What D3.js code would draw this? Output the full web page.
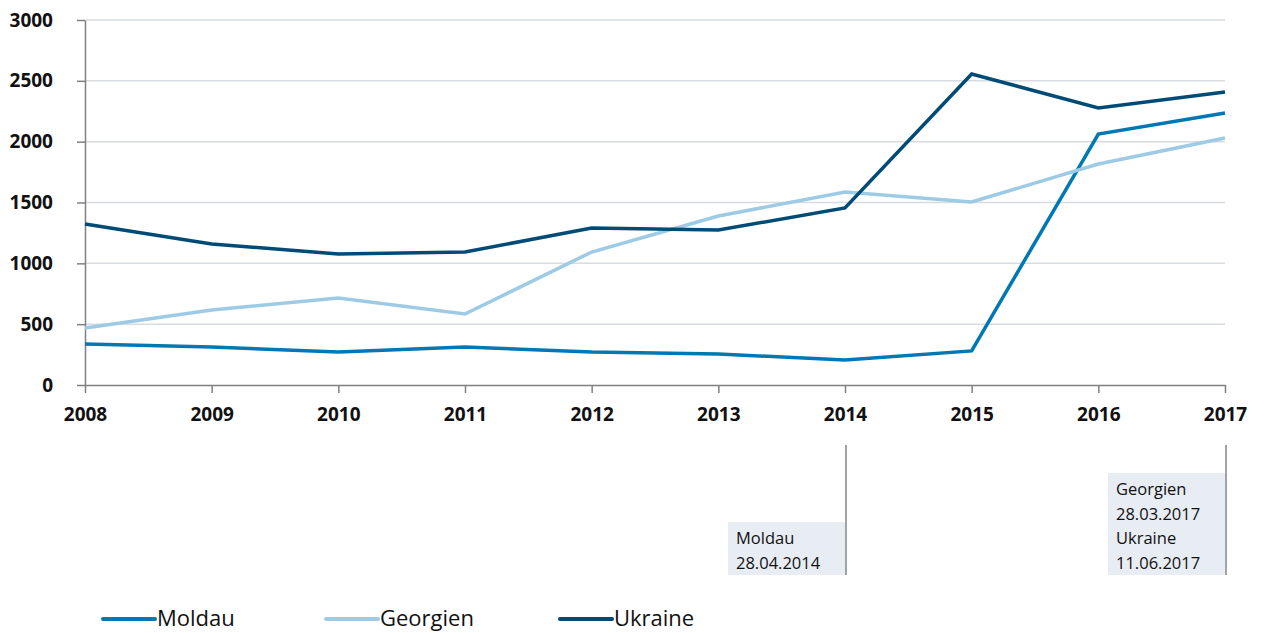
<!DOCTYPE html>
<html>
<head>
<meta charset="utf-8">
<script src="https://cdn.jsdelivr.net/npm/d3@7"></script>
<style>
  body { margin: 0; background: #fff; }
  svg { display: block; font-family: "Open Sans", "Noto Sans", sans-serif; }
</style>
</head>
<body>
<div id="vis-holder"></div>
<script>
// data
const years = [2008, 2009, 2010, 2011, 2012, 2013, 2014, 2015, 2016, 2017];
const moldau = [337, 312, 271, 312, 271, 255, 205, 280, 2063, 2236];
const georgien = [468, 616, 715, 583, 1093, 1389, 1586, 1504, 1816, 2030];
const ukraine = [1323, 1159, 1077, 1093, 1290, 1274, 1455, 2556, 2277, 2408];
const seriesNames = ["Moldau", "Georgien", "Ukraine"];
const yTicks = [0, 500, 1000, 1500, 2000, 2500, 3000];
const notes = [
  { year: 2014, lines: ["Moldau", "28.04.2014"] },
  { year: 2017, lines: ["Georgien", "28.03.2017", "Ukraine", "11.06.2017"] }
];

const width = 1269, height = 633;
const margin = { top: 20, right: 44, bottom: 248, left: 85 };
const colors = { Moldau: "#0078b4", Georgien: "#9dcbe5", Ukraine: "#004b75" };
const series = [
  { name: "Moldau", values: moldau },
  { name: "Georgien", values: georgien },
  { name: "Ukraine", values: ukraine }
];
const font = '"Open Sans", "Noto Sans", sans-serif';

const svg = d3.select("#vis-holder")
  .append("svg")
  .attr("width", width)
  .attr("height", height);

const x = d3.scalePoint()
  .domain(years)
  .range([margin.left, width - margin.right]);

const y = d3.scaleLinear()
  .domain([0, 3000])
  .range([height - margin.bottom, margin.top]);

// gridlines
svg.append("g")
  .selectAll("line")
  .data(yTicks.filter(d => d > 0))
  .join("line")
  .attr("x1", margin.left)
  .attr("x2", width - margin.right)
  .attr("y1", d => y(d))
  .attr("y2", d => y(d))
  .attr("stroke", "#d8dce0")
  .attr("stroke-width", 1.5);

// y axis
const yAxis = svg.append("g")
  .attr("transform", `translate(${margin.left},0)`)
  .call(d3.axisLeft(y).tickValues(yTicks).tickFormat(d3.format("d"))
    .tickSize(8).tickSizeOuter(0).tickPadding(24))
  .attr("font-family", font);
yAxis.select(".domain").attr("stroke", "#808080").attr("stroke-width", 1.5);
yAxis.selectAll(".tick line").attr("stroke", "#808080").attr("stroke-width", 1.5);
yAxis.selectAll(".tick text")
  .attr("font-size", "19px")
  .attr("font-weight", "bold")
  .attr("fill", "#111");

// x axis
const xAxis = svg.append("g")
  .attr("transform", `translate(0,${y(0)})`)
  .call(d3.axisBottom(x).tickFormat(d3.format("d"))
    .tickSize(8).tickSizeOuter(0).tickPadding(15))
  .attr("font-family", font);
xAxis.select(".domain").attr("stroke", "#808080").attr("stroke-width", 1.5);
xAxis.selectAll(".tick line").attr("stroke", "#808080").attr("stroke-width", 1.5);
xAxis.selectAll(".tick text")
  .attr("font-size", "19px")
  .attr("font-weight", "bold")
  .attr("fill", "#111");

// lines
const line = d3.line()
  .x((d, i) => x(years[i]))
  .y(d => y(d));

svg.append("g")
  .selectAll("path")
  .data(series)
  .join("path")
  .attr("d", d => line(d.values))
  .attr("fill", "none")
  .attr("stroke", d => colors[d.name])
  .attr("stroke-width", 3.5)
  .attr("stroke-linejoin", "miter");

// annotations
const lineH = 24.5;
const noteBottom = 575;
notes.forEach(n => {
  const nx = x(n.year) + 1;
  const boxH = n.lines.length * lineH + 4;
  const g = svg.append("g");
  g.append("rect")
    .attr("x", nx - 118)
    .attr("y", noteBottom - boxH)
    .attr("width", 117)
    .attr("height", boxH)
    .attr("fill", "#e8ecf3");
  g.append("line")
    .attr("x1", nx).attr("x2", nx)
    .attr("y1", 445).attr("y2", noteBottom)
    .attr("stroke", "#a0a4a8")
    .attr("stroke-width", 2);
  g.selectAll("text")
    .data(n.lines)
    .join("text")
    .attr("x", nx - 110)
    .attr("y", (d, i) => noteBottom - boxH + 22 + i * lineH)
    .attr("font-size", "16.5px")
    .attr("fill", "#111")
    .text(d => d);
});

// legend
const legendX = [103, 326, 560];
const legend = svg.append("g")
  .selectAll("g")
  .data(seriesNames)
  .join("g")
  .attr("transform", (d, i) => `translate(${legendX[i]},619)`);
legend.append("line")
  .attr("x1", 0).attr("x2", 52)
  .attr("stroke", d => colors[d])
  .attr("stroke-width", 4)
  .attr("stroke-linecap", "round");
legend.append("text")
  .attr("x", 54)
  .attr("y", 7)
  .attr("font-size", "22px")
  .attr("fill", "#111")
  .text(d => d);
</script>
</body>
</html>
